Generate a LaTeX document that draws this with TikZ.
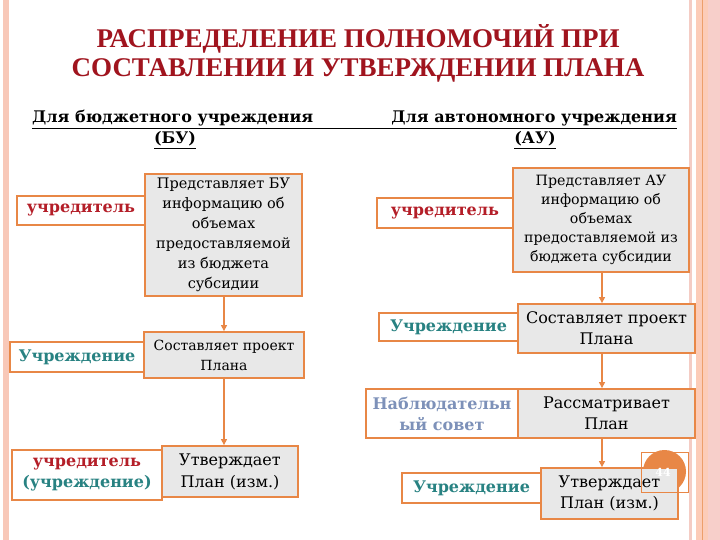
\documentclass[tikz,border=0pt]{standalone}
\usepackage{fontspec}
\setmainfont{DejaVu Serif}
\newfontfamily\titlefont{Liberation Serif}
\usetikzlibrary{arrows.meta}
\definecolor{obord}{RGB}{232,135,70}
\definecolor{boxgray}{RGB}{232,232,232}
\definecolor{titred}{RGB}{160,20,30}
\definecolor{lred}{RGB}{180,30,40}
\definecolor{lteal}{RGB}{40,130,130}
\definecolor{lslate}{RGB}{125,145,185}
\definecolor{pinkbar}{RGB}{248,200,184}
\definecolor{pinkbarb}{RGB}{252,204,184}
\definecolor{pinklite}{RGB}{244,204,196}
\begin{document}
\begin{tikzpicture}[x=1pt,y=-1pt,
  graybox/.style={draw=obord, line width=1.8pt, fill=boxgray, inner sep=0pt, align=center},
  lbl/.style={draw=obord, line width=1.8pt, fill=white, inner sep=0pt, align=center, font=\fontsize{16}{21}\selectfont\bfseries},
  arr/.style={draw=obord, line width=1.2pt, -{Triangle[length=6pt,width=6pt]}},
  hdr/.style={inner sep=0pt, font=\fontsize{16}{18}\selectfont\bfseries}]
\useasboundingbox (0,0) rectangle (720,540);
\fill[white] (0,0) rectangle (720,540);
% side bars
\fill[pinkbar] (3,0) rectangle (9,540);
\fill[pinklite] (689,0) rectangle (692,540);
\fill[pinkbarb] (696,0) rectangle (720,540);
\fill[pinkbar!110!orange] (708,0) rectangle (720,540);
\draw[obord!80, line width=0.8pt] (702.5,0) -- (702.5,540);
% title
\node[align=center, text=titred, inner sep=0pt, font=\titlefont\bfseries\fontsize{27}{29}\selectfont] (title) at (358,53)
  {РАСПРЕДЕЛЕНИЕ ПОЛНОМОЧИЙ ПРИ\\СОСТАВЛЕНИИ И УТВЕРЖДЕНИИ ПЛАНА};
% headers
\node[hdr, anchor=base west] (hl1) at (32,123) {\underline{\makebox[328pt][l]{Для бюджетного учреждения}}};
\node[hdr, anchor=base] (hl2) at (175,144) {\underline{(БУ)}};
\node[hdr, anchor=base east] (hr1) at (677,123) {\underline{\makebox[317pt][r]{Для автономного учреждения}}};
\node[hdr, anchor=base] (hr2) at (535,144) {\underline{(АУ)}};
% left column
\node[lbl, minimum width=128pt, minimum height=29pt, text=lred] (bu1l) at (81,210.5) {учредитель};
\node[graybox, minimum width=157pt, minimum height=122pt, font=\fontsize{14.5}{20}\selectfont] (bu1) at (223.5,235)
  {Представляет БУ\\информацию об\\объемах\\предоставляемой\\из бюджета\\субсидии};
\node[lbl, minimum width=134pt, minimum height=30pt, text=lteal] (bu2l) at (77,357) {Учреждение};
\node[graybox, minimum width=160pt, minimum height=46pt, font=\fontsize{14}{20}\selectfont] (bu2) at (224,355)
  {Составляет проект\\Плана};
\node[lbl, minimum width=150pt, minimum height=50pt] (bu3l) at (87,475)
  {\textcolor{lred}{учредитель}\\\textcolor{lteal}{(учреждение)}};
\node[graybox, minimum width=136pt, minimum height=51pt, font=\fontsize{16}{22}\selectfont] (bu3) at (230,471.5)
  {Утверждает\\План (изм.)};
% right column
\node[lbl, minimum width=136pt, minimum height=30pt, text=lred] (au1l) at (445,213) {учредитель};
\node[graybox, minimum width=176pt, minimum height=104pt, font=\fontsize{14.2}{19}\selectfont] (au1) at (601,220)
  {Представляет АУ\\информацию об\\объемах\\предоставляемой из\\бюджета субсидии};
\node[lbl, minimum width=139pt, minimum height=28pt, text=lteal] (au2l) at (448.5,327) {Учреждение};
\node[graybox, minimum width=177pt, minimum height=49pt, font=\fontsize{16}{21}\selectfont] (au2) at (606.5,328.5)
  {Составляет проект\\Плана};
\node[lbl, minimum width=152pt, minimum height=49pt, text=lslate] (au3l) at (442,413.5) {Наблюдательн\\ый совет};
\node[graybox, minimum width=177pt, minimum height=49pt, font=\fontsize{16}{21}\selectfont] (au3) at (606.5,413.5)
  {Рассматривает\\План};
\fill[obord] (664.5,471.5) circle (21.5);
\node[lbl, minimum width=139pt, minimum height=30pt, text=lteal] (au4l) at (471.5,488) {Учреждение};
\node[graybox, minimum width=137pt, minimum height=51pt, font=\fontsize{16}{21}\selectfont] (au4) at (609.5,493.5)
  {Утверждает\\План (изм.)};
\node[text=white, font=\fontsize{11}{13}\selectfont\bfseries, inner sep=0pt] (num) at (663,472) {44};
\draw[obord, line width=0.8pt] (641,452) rectangle (688,492);
% arrows
\coordinate (la) at (224,0);
\coordinate (ra) at (602,0);
\draw[arr] (bu1.south -| la) -- (bu2.north -| la);
\draw[arr] (bu2.south -| la) -- (bu3.north -| la);
\draw[arr] (au1.south -| ra) -- (au2.north -| ra);
\draw[arr] (au2.south -| ra) -- (au3.north -| ra);
\draw[arr] (au3.south -| ra) -- (au4.north -| ra);
\end{tikzpicture}
\end{document}
